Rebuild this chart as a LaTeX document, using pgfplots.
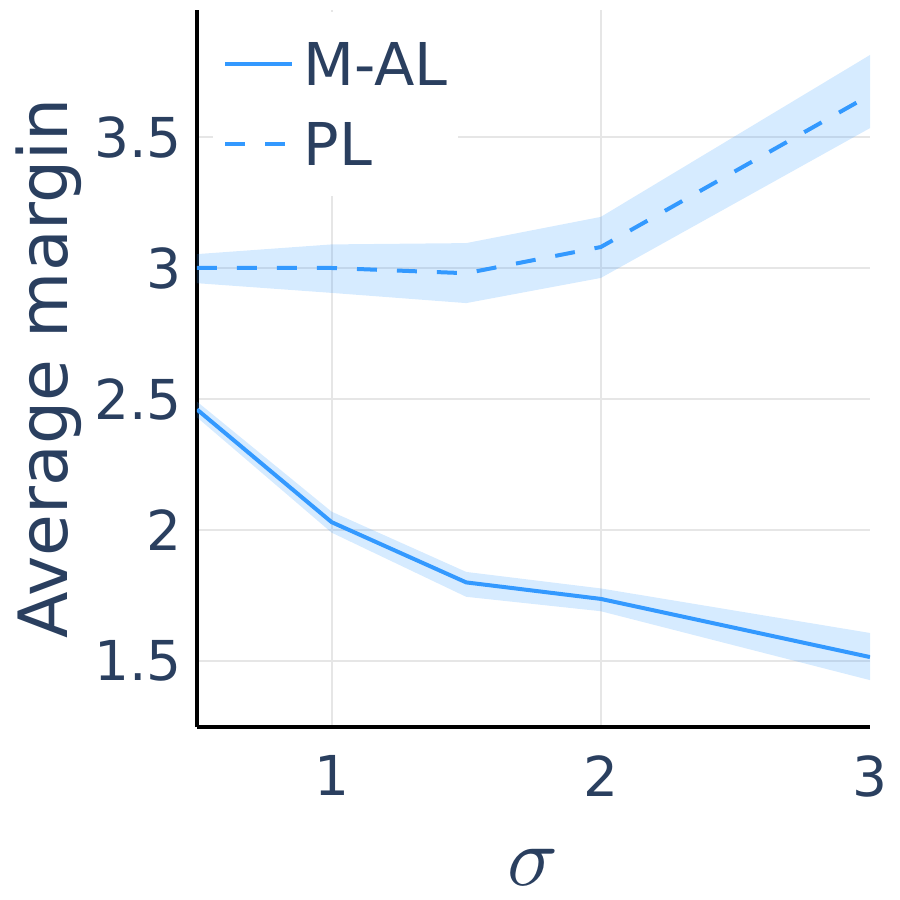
\documentclass[border=0pt]{standalone}
\usepackage{fontspec}
\setmainfont{DejaVu Sans}
\usepackage{pgfplots}
\pgfplotsset{compat=1.18}
\definecolor{lineblue}{RGB}{51,153,255}
\definecolor{txt}{RGB}{42,63,95}
\definecolor{gridc}{RGB}{230,230,230}
\begin{document}
\begin{tikzpicture}
\begin{axis}[
  scale only axis, width=336.5pt, height=358.5pt,
  xmin=0.5, xmax=3, ymin=1.2481, ymax=3.9847,
  axis lines*=left,
  axis line style={black, line width=2pt, -},
  xtick={1,2}, ytick={1.5,2,2.5,3,3.5},
  extra x ticks={3}, extra x tick style={grid=none},
  major tick length=0pt,
  /pgf/number format/assume math mode=true,
  grid=major, major grid style={gridc, line width=1pt},
  tick label style={font=\fontsize{27.5}{33}\selectfont, text=txt, inner sep=0pt},
  yticklabel style={anchor=east, xshift=-7.5pt},
  xticklabel style={anchor=north, yshift=-14pt},
  ylabel={Average margin},
  ylabel style={font=\fontsize{34}{40}\selectfont, text=txt, at={(axis description cs:-0.1917,0.5)}, anchor=base, inner sep=0pt},
  xlabel={\scalebox{4.2}{$\sigma$}},
  xlabel style={text=txt, at={(axis description cs:0.5,-0.2205)}, anchor=base, inner sep=0pt},
  legend style={at={(axis description cs:0.0238,0.9972)}, anchor=north west,
    draw=none, fill=white, inner xsep=5pt, inner ysep=15.25pt,
    font=\fontsize{29.5}{35}\selectfont, text=txt, row sep=18.5pt,
    nodes={inner sep=0pt, text height=21.5pt, text depth=0pt},
    cells={anchor=base west},
    /tikz/every odd column/.append style={column sep=4.6pt}},
  legend image code/.code={\draw[#1] (0pt,10.75pt) -- (33.5pt,10.75pt);},
]
% bands
\addplot[draw=none, fill=lineblue, fill opacity=0.2, forget plot] coordinates {
  (0.5,2.49) (1,2.07) (1.5,1.84) (2,1.777) (3,1.607)
  (3,1.427) (2,1.69) (1.5,1.745) (1,1.99) (0.5,2.43)} -- cycle;
\addplot[draw=none, fill=lineblue, fill opacity=0.2, forget plot] coordinates {
  (0.5,3.053) (1,3.09) (1.5,3.095) (2,3.195) (3,3.813)
  (3,3.534) (2,2.962) (1.5,2.866) (1,2.905) (0.5,2.942)} -- cycle;
% lines
\addplot[lineblue, line width=2pt] coordinates {
  (0.5,2.46) (1,2.03) (1.5,1.80) (2,1.737) (3,1.515)};
\addlegendentry{M-AL}
\addplot[lineblue, line width=2pt, dash pattern=on 10pt off 10pt] coordinates {
  (0.5,3.0) (1,3.0) (1.5,2.98) (2,3.08) (3,3.66)};
\addlegendentry{PL}
\end{axis}
\pgfresetboundingbox
\path[use as bounding box] (-98.5pt,-86.5pt) rectangle (351.5pt,363.5pt);
\end{tikzpicture}
\end{document}
